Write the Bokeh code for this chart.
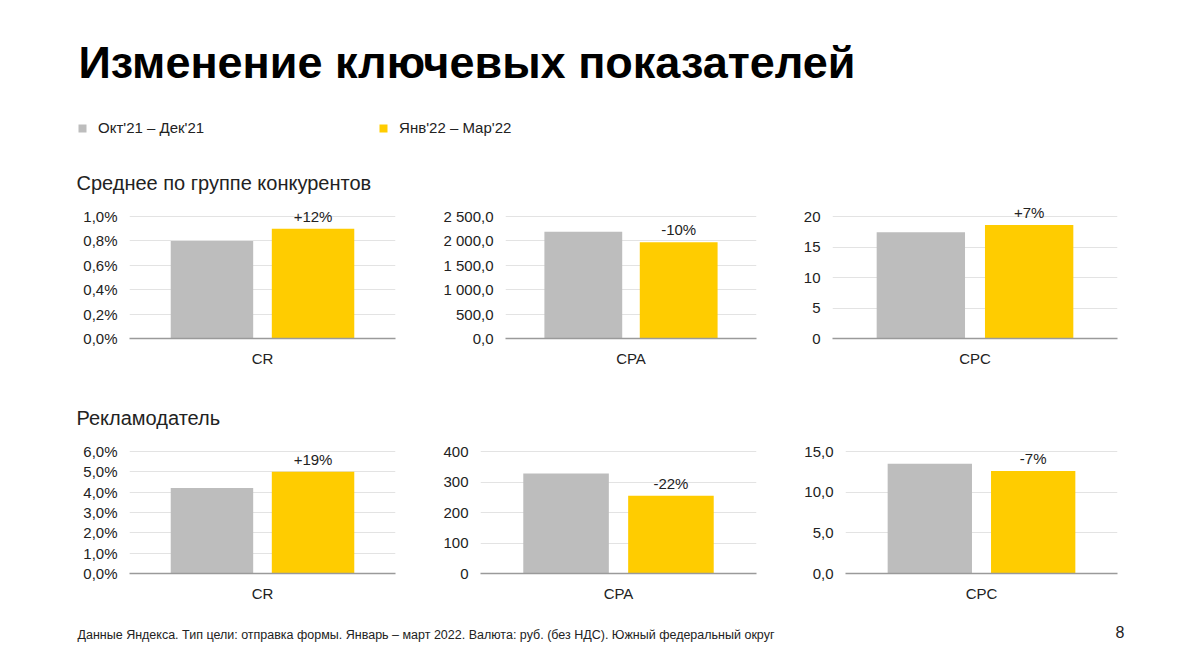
from bokeh.core.properties import value
from bokeh.embed import file_html
from bokeh.layouts import column, row
from bokeh.models import ColumnDataSource, FactorRange, FixedTicker, Label, Legend, LegendItem, Range1d
from bokeh.plotting import figure
from bokeh.resources import INLINE
from bokeh.transform import dodge

# Данные
periods = ["Окт'21 – Дек'21", "Янв'22 – Мар'22"]
metrics = ["CR", "CPA", "CPC"]

# Среднее по группе конкурентов
comp_before = [0.80, 2190, 17.4]
comp_after = [0.90, 1970, 18.6]
comp_change = ["+12%", "-10%", "+7%"]
comp_ticks = [[0, 0.2, 0.4, 0.6, 0.8, 1.0], [0, 500, 1000, 1500, 2000, 2500], [0, 5, 10, 15, 20]]
comp_tick_labels = [
    ["0,0%", "0,2%", "0,4%", "0,6%", "0,8%", "1,0%"],
    ["0,0", "500,0", "1 000,0", "1 500,0", "2 000,0", "2 500,0"],
    ["0", "5", "10", "15", "20"],
]

# Рекламодатель
adv_before = [4.2, 328, 13.5]
adv_after = [5.0, 255, 12.6]
adv_change = ["+19%", "-22%", "-7%"]
adv_ticks = [[0, 1, 2, 3, 4, 5, 6], [0, 100, 200, 300, 400], [0, 5, 10, 15]]
adv_tick_labels = [
    ["0,0%", "1,0%", "2,0%", "3,0%", "4,0%", "5,0%", "6,0%"],
    ["0", "100", "200", "300", "400"],
    ["0,0", "5,0", "10,0", "15,0"],
]

FONT = "Liberation Sans"
GRAY = "#BDBDBD"
YELLOW = "#FFCC00"
TEXT = "#222222"
PAD = 132 / 122  # место над верхней линией сетки


def blank(width, height):
    p = figure(width=width, height=height, x_range=Range1d(0, 1), y_range=Range1d(0, 1),
               x_axis_type=None, y_axis_type=None, toolbar_location=None, tools="",
               output_backend="svg", min_border=0, outline_line_color=None)
    return p


def add_text(p, x, y, text, size, bold=False, color=TEXT):
    p.add_layout(Label(x=x, y=y, x_units="screen", y_units="screen", text=text,
                       text_font=FONT, text_font_size=size, text_color=color,
                       text_font_style="bold" if bold else "normal",
                       text_baseline="alphabetic"))


def panel(metric, before, after, change, ticks, labels, width, left, right, top, bottom, height):
    p = figure(width=width, height=height, x_range=FactorRange(factors=[metric]),
               y_range=Range1d(0, ticks[-1] * PAD), toolbar_location=None, tools="",
               output_backend="svg", min_border_left=left, min_border_right=right,
               min_border_top=top, min_border_bottom=bottom, outline_line_color=None)
    src = ColumnDataSource(dict(metric=[metric], before=[before], after=[after], change=[change]))
    p.vbar(x=dodge("metric", -0.19, range=p.x_range), top="before", width=0.31, source=src,
           fill_color=GRAY, line_color=None)
    p.vbar(x=dodge("metric", 0.19, range=p.x_range), top="after", width=0.31, source=src,
           fill_color=YELLOW, line_color=None)
    p.text(x=dodge("metric", 0.19, range=p.x_range), y="after", text="change", source=src,
           text_font=value(FONT), text_font_size="15px", text_color=TEXT,
           text_align="center", text_baseline="bottom", y_offset=-4)

    p.xgrid.grid_line_color = None
    p.ygrid.grid_line_color = "#E3E3E3"
    p.ygrid.ticker = FixedTicker(ticks=ticks)

    p.yaxis.ticker = FixedTicker(ticks=ticks)
    p.yaxis.major_label_overrides = dict(zip(ticks, labels))
    p.yaxis.axis_line_color = None
    p.yaxis.major_tick_line_color = None
    p.yaxis.minor_tick_line_color = None
    p.yaxis.major_tick_out = 0
    p.yaxis.major_label_standoff = 12
    p.yaxis.major_label_text_font = FONT
    p.yaxis.major_label_text_font_size = "15px"
    p.yaxis.major_label_text_color = TEXT

    p.xaxis.axis_line_color = "#9A9A9A"
    p.xaxis.axis_line_width = 1.5
    p.xaxis.major_tick_line_color = None
    p.xaxis.major_tick_out = 0
    p.xaxis.major_label_standoff = 11
    p.xaxis.major_label_text_font = FONT
    p.xaxis.major_label_text_font_size = "15px"
    p.xaxis.major_label_text_color = TEXT
    return p


# Шапка: заголовок, легенда, подзаголовок
header = blank(1200, 200)
add_text(header, 78, 138, "Изменение ключевых показателей", "45px", bold=True, color="#000000")
# пустые (нулевой высоты) столбики только для значков легенды
r_before = header.vbar(x=[0.5], bottom=[0], top=[0], width=0.1, fill_color=GRAY, line_color=None)
r_after = header.vbar(x=[0.5], bottom=[0], top=[0], width=0.1, fill_color=YELLOW, line_color=None)
legend = Legend(items=[LegendItem(label=periods[0], renderers=[r_before]),
                       LegendItem(label=periods[1], renderers=[r_after])],
                location=(77, 64), orientation="horizontal", glyph_width=10, glyph_height=10,
                label_standoff=11, spacing=174, padding=0, margin=0, label_height=15,
                border_line_color=None, background_fill_alpha=0,
                label_text_font=FONT, label_text_font_size="15px", label_text_color=TEXT)
header.add_layout(legend, "center")
add_text(header, 76, 17.5, "Среднее по группе конкурентов", "20px")

# Верхний ряд
geom_top = [(440, 129, 45), (350, 65, 34), (410, 42, 83)]
top_row = row([panel(metrics[i], comp_before[i], comp_after[i], comp_change[i], comp_ticks[i],
                     comp_tick_labels[i], w, l, r, 6, 42, 180)
               for i, (w, l, r) in enumerate(geom_top)])

sub = blank(1200, 56)
add_text(sub, 76, 18.4, "Рекламодатель", "20px")

# Нижний ряд
geom_bot = [(440, 129, 45), (350, 40, 34), (410, 55, 83)]
bot_row = row([panel(metrics[i], adv_before[i], adv_after[i], adv_change[i], adv_ticks[i],
                     adv_tick_labels[i], w, l, r, 5, 39, 176)
               for i, (w, l, r) in enumerate(geom_bot)])

footer = blank(1200, 32)
add_text(footer, 77, 9.6, "Данные Яндекса. Тип цели: отправка формы. Январь – март 2022. "
         "Валюта: руб. (без НДС). Южный федеральный округ", "12.5px")
add_text(footer, 1115, 13, "8", "16px")

page = column([header, top_row, sub, bot_row, footer])
open("out.html", "w").write(file_html(page, INLINE))
